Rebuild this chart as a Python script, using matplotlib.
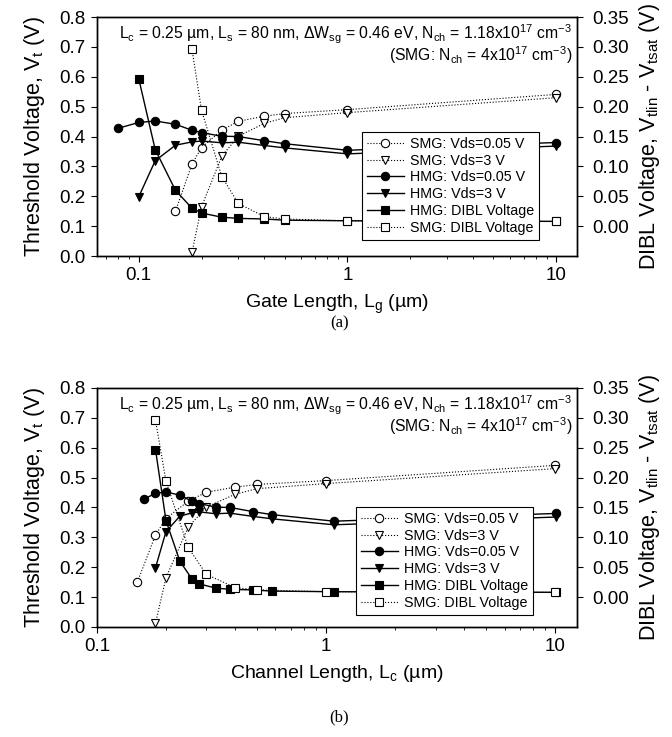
import matplotlib
matplotlib.use('Agg')
import matplotlib.pyplot as plt
from matplotlib.ticker import FixedLocator, FormatStrFormatter, LogLocator, NullFormatter

plt.rcParams['font.family'] = ['Liberation Sans', 'DejaVu Sans']
plt.rcParams['mathtext.default'] = 'regular'

# gate lengths (um) used in panel (a)
lg_hmg = [0.08, 0.1, 0.12, 0.15, 0.18, 0.2, 0.25, 0.3, 0.4, 0.5, 1, 10]
lg_hmg3 = [0.1, 0.12, 0.15, 0.18, 0.2, 0.25, 0.3, 0.4, 0.5, 1, 10]
lg_smg = [0.15, 0.18, 0.2, 0.25, 0.3, 0.4, 0.5, 1, 10]
lg_smg3 = [0.18, 0.2, 0.25, 0.3, 0.4, 0.5, 1, 10]

# channel lengths (um) used in panel (b)
lc_hmg = [0.16, 0.18, 0.20, 0.23, 0.26, 0.28, 0.33, 0.38, 0.48, 0.58, 1.08, 10.08]
lc_hmg3 = [0.18, 0.20, 0.23, 0.26, 0.28, 0.33, 0.38, 0.48, 0.58, 1.08, 10.08]
lc_smg = lg_smg
lc_smg3 = lg_smg3

# threshold voltages (V)
vt_smg_lin = [0.15, 0.308, 0.363, 0.421, 0.451, 0.468, 0.477, 0.49, 0.541]
vt_smg_sat = [0.012, 0.165, 0.334, 0.401, 0.444, 0.463, 0.48, 0.53]
vt_hmg_lin = [0.428, 0.447, 0.452, 0.441, 0.421, 0.413, 0.401, 0.400, 0.386, 0.376, 0.354, 0.38]
vt_hmg_sat = [0.198, 0.319, 0.371, 0.382, 0.385, 0.379, 0.381, 0.37, 0.362, 0.342, 0.368]

# DIBL voltages (V), right axis
dibl_hmg = [0.247, 0.128, 0.060, 0.030, 0.022, 0.015, 0.013, 0.012, 0.010, 0.009, 0.008]
dibl_smg = [0.296, 0.194, 0.083, 0.038, 0.016, 0.012, 0.009, 0.008]

note1 = (r'L$_c$ = 0.25 µm, L$_s$ = 80 nm, ΔW$_{sg}$ = 0.46 eV, '
         r'N$_{ch}$ = 1.18x10$^{17}$ cm$^{-3}$')
note2 = r'(SMG: N$_{ch}$ = 4x10$^{17}$ cm$^{-3}$)'

fig = plt.figure(figsize=(6.72, 7.37), dpi=100)

panels = [
    (0.6526, lg_hmg, lg_hmg3, lg_smg, lg_smg3, (10**-1.2, 10**1.1),
     r'Gate Length, L$_g$ (µm)', '(a)', 0.561, 0.921, 0.067),
    (0.1493, lc_hmg, lc_hmg3, lc_smg, lc_smg3, (0.1, 10**1.094),
     r'Channel Length, L$_c$ (µm)', '(b)', 0.026, 0.908, 0.05),
]

for bottom, xh, xh3, xs, xs3, xlim, xlabel, tag, tag_y, lx, ly in panels:
    ax = fig.add_axes([0.1443, bottom, 0.7143, 0.3243])
    ax2 = ax.twinx()

    kw_s = dict(color='k', lw=0.8, ls=':', ms=6, mfc='white', mew=0.8)
    kw_h = dict(color='k', lw=1.0, ls='-', ms=6, mew=0.8)

    h1, = ax.plot(xs, vt_smg_lin, marker='o', label='SMG: Vds=0.05 V', **kw_s)
    h2, = ax.plot(xs3, vt_smg_sat, marker='v', label='SMG: Vds=3 V', **kw_s)
    h3, = ax.plot(xh, vt_hmg_lin, marker='o', label='HMG: Vds=0.05 V', **kw_h)
    h4, = ax.plot(xh3, vt_hmg_sat, marker='v', label='HMG: Vds=3 V', **kw_h)
    h5, = ax2.plot(xh3, dibl_hmg, marker='s', label='HMG: DIBL Voltage', **kw_h)
    h6, = ax2.plot(xs3, dibl_smg, marker='s', label='SMG: DIBL Voltage', **kw_s)

    ax.set_xscale('log')
    ax.set_xlim(*xlim)
    ax.set_ylim(0, 0.8)
    ax2.set_ylim(-0.05, 0.35)
    ax.set_xticks([0.1, 1, 10])
    ax.set_xticklabels(['0.1', '1', '10'])
    ax.xaxis.set_minor_locator(LogLocator(base=10, subs=range(2, 10)))
    ax.xaxis.set_minor_formatter(NullFormatter())
    ax.yaxis.set_major_locator(FixedLocator([i / 10 for i in range(9)]))
    ax.yaxis.set_major_formatter(FormatStrFormatter('%.1f'))
    ax2.yaxis.set_major_locator(FixedLocator([i * 0.05 for i in range(8)]))
    ax2.yaxis.set_major_formatter(FormatStrFormatter('%.2f'))

    ax.tick_params(direction='out', labelsize=13.5, length=4, width=0.8, pad=4)
    ax2.tick_params(direction='out', labelsize=13.5, length=4, width=0.8, pad=7)
    ax.tick_params(which='minor', direction='out', length=2.5, width=0.6)
    for a in (ax, ax2):
        for s in a.spines.values():
            s.set_linewidth(1.0)

    ax.set_ylabel(r'Threshold Voltage, V$_t$ (V)', fontsize=15.5, labelpad=9)
    ax2.set_ylabel(r'DIBL Voltage, V$_{tlin}$ - V$_{tsat}$ (V)', fontsize=15.5, labelpad=6)
    ax.set_xlabel(xlabel, fontsize=14, labelpad=6)

    ax.text(0.99, 0.975, note1, transform=ax.transAxes, ha='right', va='top', fontsize=11.3)
    ax.text(0.99, 0.885, note2, transform=ax.transAxes, ha='right', va='top', fontsize=11.3)

    leg = ax2.legend(handles=[h1, h2, h3, h4, h5, h6], loc='lower right',
                     bbox_to_anchor=(lx, ly), fontsize=10.3, frameon=True,
                     fancybox=False, edgecolor='k', framealpha=1,
                     handlelength=2.6, borderpad=0.35, labelspacing=0.2,
                     handletextpad=0.4, borderaxespad=0)
    leg.get_frame().set_linewidth(0.8)

    fig.text(0.505, tag_y, tag, ha='center', va='center', fontsize=12,
             family='Liberation Serif')

fig.savefig('out.png', dpi=100)
